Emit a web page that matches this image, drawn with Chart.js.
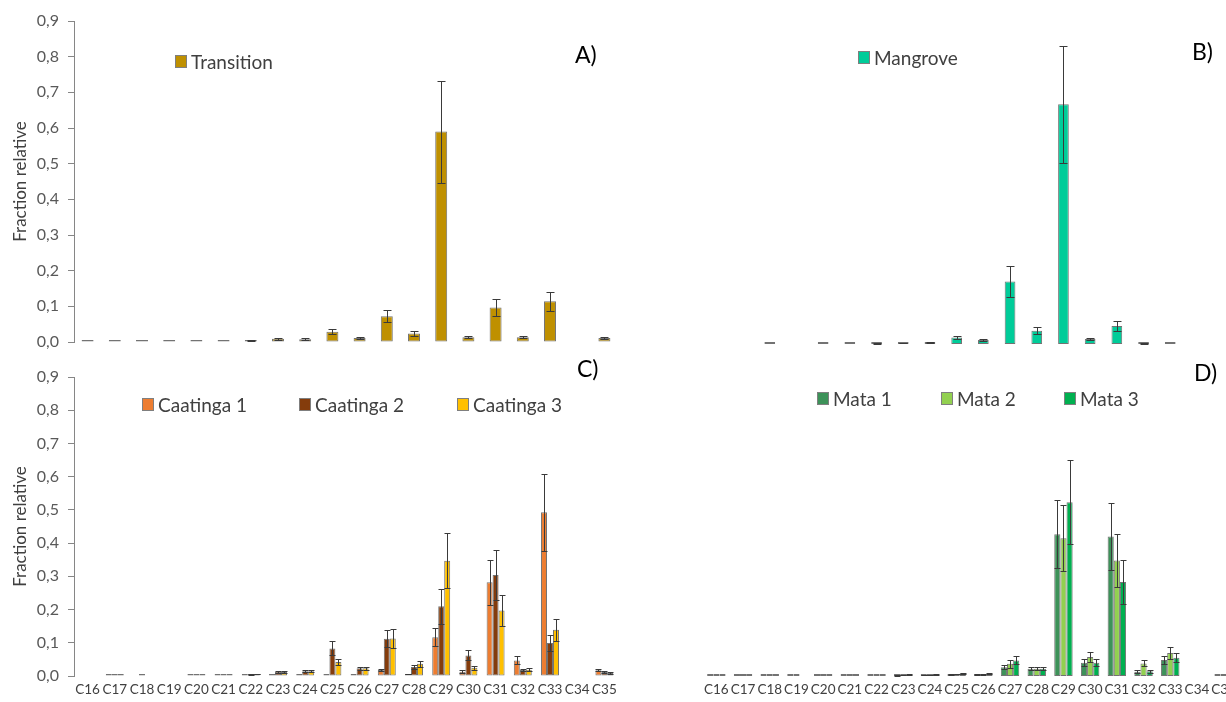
<!DOCTYPE html>
<html>
<head>
<meta charset="utf-8">
<script src="https://cdn.jsdelivr.net/npm/chart.js@4/dist/chart.umd.min.js"></script>
<style>
body { margin:0; width:1226px; height:702px; overflow:hidden; background:#fff; position:relative; font-family:Lato, sans-serif; }
canvas { position:absolute; }
.lg { position:absolute; display:flex; align-items:center; height:22px; font-size:19px; color:#404040; white-space:nowrap; }
.lg .box { display:inline-block; width:10px; height:11px; border:1px solid #7f7f7f; margin-right:4px; }
.tag { position:absolute; font-size:23px; line-height:26px; color:#000; }
</style>
</head>
<body>
<canvas id="canvasA" width="625" height="362" style="left:0;top:0"></canvas>
<canvas id="canvasB" width="640" height="352" style="left:620px;top:0"></canvas>
<canvas id="canvasC" width="625" height="350" style="left:0;top:352px"></canvas>
<canvas id="canvasD" width="640" height="350" style="left:620px;top:352px"></canvas>
<script>
"use strict";

// data
let categories = ["C16","C17","C18","C19","C20","C21","C22","C23","C24","C25","C26","C27","C28","C29","C30","C31","C32","C33","C34","C35"];
let yTicks = [0, 0.1, 0.2, 0.3, 0.4, 0.5, 0.6, 0.7, 0.8, 0.9];

let transition    = [0.001,0.001,0.001,0.001,0.001,0.001,0.004,0.009,0.008,0.029,0.011,0.072,0.024,0.590,0.013,0.097,0.013,0.114,null,0.011];
let transitionErr = [0,0,0,0,0,0,0.001,0.002,0.002,0.007,0.003,0.017,0.006,0.143,0.003,0.023,0.003,0.027,null,0.003];

let mangrove    = [null,null,0.001,null,0.001,0.001,0.002,0.003,0.004,0.018,0.011,0.175,0.037,0.670,0.014,0.050,0.002,0.001,null,null];
let mangroveErr = [null,null,0,null,0,0,0.001,0.001,0.001,0.004,0.003,0.044,0.010,0.163,0.003,0.013,0.001,0,null,null];

let caatinga1    = [null,0.0005,null,null,0.0005,0.0005,0.0005,0.001,0.001,0.002,0.001,0.018,0.006,0.117,0.013,0.282,0.047,0.493,null,0.017];
let caatinga2    = [null,0.001,0.0005,null,0.001,0.001,0.004,0.013,0.014,0.083,0.023,0.112,0.027,0.210,0.062,0.304,0.018,0.099,null,0.012];
let caatinga3    = [null,0.001,null,null,0.001,0.001,0.006,0.012,0.014,0.042,0.023,0.113,0.037,0.347,0.025,0.197,0.019,0.139,null,0.009];
let caatinga1Err = [null,0,null,null,0,0,0,0,0,0,0,0.004,0.001,0.028,0.004,0.068,0.012,0.116,null,0.003];
let caatinga2Err = [null,0,0,null,0,0,0.001,0.003,0.003,0.021,0.005,0.025,0.007,0.052,0.015,0.074,0.004,0.023,null,0.003];
let caatinga3Err = [null,0,null,null,0,0,0.001,0.003,0.003,0.010,0.005,0.029,0.009,0.083,0.006,0.048,0.005,0.034,null,0.002];

let mata1    = [0.001,0.001,0.001,0.001,0.001,0.001,0.001,0.002,0.003,0.004,0.004,0.026,0.022,0.427,0.040,0.420,0.013,0.048,null,0.001];
let mata2    = [0.001,0.001,0.001,0.001,0.001,0.001,0.001,0.003,0.003,0.006,0.005,0.037,0.022,0.415,0.057,0.348,0.038,0.069,null,0.001];
let mata3    = [0.001,0.001,0.001,null,0.001,0.001,0.001,0.005,0.004,0.008,0.007,0.047,0.022,0.523,0.040,0.283,0.014,0.055,null,0.001];
let mata1Err = [0,0,0,0,0,0,0,0.001,0.001,0.001,0.001,0.006,0.005,0.102,0.010,0.100,0.004,0.011,null,0];
let mata2Err = [0,0,0,0,0,0,0,0.001,0.001,0.001,0.001,0.012,0.005,0.100,0.015,0.080,0.009,0.018,null,0];
let mata3Err = [0,0,0,null,0,0,0,0.001,0.001,0.001,0.001,0.012,0.005,0.126,0.010,0.067,0.004,0.014,null,0];

Chart.defaults.font.family = "Lato, sans-serif";
Chart.defaults.color = "#595959";

// error bars drawn from the y scale
const errorBars = {
    id: "errorBars",
    afterDatasetsDraw(chart, args, opts)
    {
        let ctx = chart.ctx;
        let y = chart.scales.y;
        ctx.save();
        ctx.strokeStyle = "#3a3a3a";
        ctx.lineWidth = 1;
        chart.data.datasets.forEach((ds, di) => {
            if (!ds.errors) return;
            let meta = chart.getDatasetMeta(di);
            meta.data.forEach((bar, i) => {
                let v = ds.data[i], e = ds.errors[i];
                if (v == null || !e) return;
                let top = Math.round(y.getPixelForValue(v + e)) + 0.5;
                let bot = Math.round(y.getPixelForValue(Math.max(v - e, 0))) + 0.5;
                let x = Math.round(bar.x) + 0.5;
                ctx.beginPath();
                ctx.moveTo(x, top); ctx.lineTo(x, bot);
                ctx.moveTo(x - opts.cap, top); ctx.lineTo(x + opts.cap, top);
                ctx.moveTo(x - opts.cap, bot); ctx.lineTo(x + opts.cap, bot);
                ctx.stroke();
            });
        });
        ctx.restore();
    }
};

function ds(label, data, errors, color)
{
    return {
        label: label, data: data, errors: errors,
        backgroundColor: color,
        borderColor: "rgba(90,90,90,0.85)",
        borderWidth: 1,
        borderSkipped: false,
        minBarLength: 2,
    };
}

function makeChart(canvas, datasets, o)
{
    let opts = {
        type: "bar",
        data: { labels: categories, datasets: datasets },
        plugins: [errorBars],
        options: {
            responsive: false,
            animation: false,
            events: [],
            layout: { padding: o.padding },
            datasets: { bar: { barPercentage: o.barPct, categoryPercentage: o.catPct } },
            plugins: { legend: { display: false }, tooltip: { enabled: false }, errorBars: { cap: o.cap } },
            scales: {
                x: {
                    grid: { display: false, drawTicks: false },
                    border: { display: false },
                    ticks: { display: o.xLabels, autoSkip: false, maxRotation: 0, minRotation: 0, padding: 6, color: "#404040", font: { size: 13.5 } },
                    afterFit: s => { s.height = o.xHeight; },
                },
                y: {
                    display: o.yAxis,
                    min: 0, max: 0.9,
                    afterBuildTicks: s => { s.ticks = yTicks.map(v => ({ value: v })); },
                    grid: { drawOnChartArea: false, drawTicks: true, tickLength: 6, color: "#868686" },
                    border: { display: true, color: "#868686" },
                    ticks: { padding: 9, color: "#595959", font: { size: 16 }, callback: v => v.toFixed(1).replace(".", ",") },
                    title: { display: true, text: "Fraction relative", color: "#404040", font: { size: 17 }, padding: { top: 10 } },
                    afterFit: s => { s.width = 74; },
                },
            },
        },
    };
    return new Chart(canvas, opts);
}

let cA = makeChart(document.querySelector("#canvasA"),
    [ds("Transition", transition, transitionErr, "#BF9000")],
    { padding: { left: 0, right: 7, top: 21, bottom: 0 }, barPct: 0.44, catPct: 1, cap: 4, xLabels: false, xHeight: 20, yAxis: true });

let cB = makeChart(document.querySelector("#canvasB"),
    [ds("Mangrove", mangrove, mangroveErr, "#00CC99")],
    { padding: { left: 9, right: 23, top: 22, bottom: 0 }, barPct: 0.4, catPct: 1, cap: 4, xLabels: false, xHeight: 8, yAxis: false });

let cC = makeChart(document.querySelector("#canvasC"),
    [ds("Caatinga 1", caatinga1, caatinga1Err, "#ED7D31"),
     ds("Caatinga 2", caatinga2, caatinga2Err, "#843C0C"),
     ds("Caatinga 3", caatinga3, caatinga3Err, "#FFC000")],
    { padding: { left: 0, right: 7, top: 25, bottom: 0 }, barPct: 1, catPct: 0.66, cap: 3, xLabels: true, xHeight: 26, yAxis: true });

let cD = makeChart(document.querySelector("#canvasD"),
    [ds("Mata 1", mata1, mata1Err, "#3D9259"),
     ds("Mata 2", mata2, mata2Err, "#92D050"),
     ds("Mata 3", mata3, mata3Err, "#00B050")],
    { padding: { left: 9, right: 23, top: 25, bottom: 0 }, barPct: 1, catPct: 0.69, cap: 3, xLabels: true, xHeight: 26, yAxis: false });

// legends, built from the dataset labels
function legend(chart, spots)
{
    chart.data.datasets.forEach((d, i) => {
        let div = document.createElement("div");
        div.className = "lg";
        div.style.left = spots[i][0] + "px";
        div.style.top = spots[i][1] + "px";
        let box = document.createElement("span");
        box.className = "box";
        box.style.background = d.backgroundColor;
        div.appendChild(box);
        div.appendChild(document.createTextNode(d.label));
        document.body.appendChild(div);
    });
}
legend(cA, [[175, 50]]);
legend(cB, [[858, 46]]);
legend(cC, [[142, 393], [299, 393], [457, 393]]);
legend(cD, [[817, 387], [941, 387], [1064, 387]]);

function tag(text, x, y)
{
    let div = document.createElement("div");
    div.className = "tag";
    div.textContent = text;
    div.style.left = x + "px";
    div.style.top = y + "px";
    document.body.appendChild(div);
}
tag("A)", 575, 41);
tag("B)", 1192, 38);
tag("C)", 577, 355);
tag("D)", 1194, 359);
</script>
</body>
</html>
